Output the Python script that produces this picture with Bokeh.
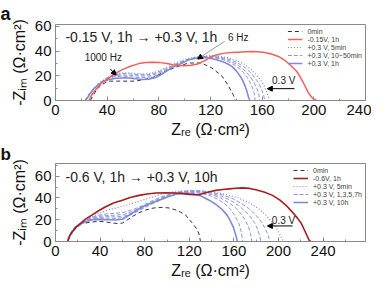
from bokeh.plotting import figure
from bokeh.layouts import column
from bokeh.models import (Range1d, FixedTicker, Legend, LegendItem, Label,
                          Arrow, NormalHead)
from bokeh.embed import file_html
from bokeh.resources import INLINE

# ---------------- Panel a data (Zre, -Zim in ohm cm2) ----------------
A_X_TICKS = [0, 40, 80, 120, 160, 200, 240]
A_Y_TICKS = [0, 20, 40, 60]

A_0MIN_X = [27, 29, 32, 36, 41, 49, 62, 75, 84, 93, 103, 113, 121, 129, 134, 138, 139]
A_0MIN_Y = [0, 4, 9, 13, 15.7, 15.7, 15.7, 18.4, 23, 27, 30.4, 30.4, 26.4, 19.7, 11.7, 3.7, 0]

A_RED_X = [26, 27, 29, 32.4, 36, 41.4, 46, 51.7, 58, 64.5, 70, 75, 81, 86.4, 91, 95.4, 100,
           105, 110, 116, 121, 126, 131, 136, 141.7, 147, 152, 157, 162, 167, 172.6, 177,
           180, 183.5, 186.7, 189.5, 191.9, 194, 195.7, 198, 200, 202]
A_RED_Y = [0, 2.5, 6, 10.4, 14.5, 18.4, 21.8, 25, 27.8, 29.9, 30.8, 31, 30.7, 29.9, 29, 28.3,
           28.2, 28.6, 29.6, 32.5, 35.7, 37.3, 38.4, 38.9, 39.2, 39.5, 39.7, 39.6, 38.9, 37.7,
           35.7, 33, 30.4, 27, 23.7, 19, 14.4, 10, 6.4, 3, 1, 0.5]

A_5MIN_X = [23, 25, 28, 31, 35, 40, 45, 50, 56, 62, 68, 74, 80, 86, 92, 98, 104, 110, 116,
            122, 128, 134, 140, 146, 151, 155, 158.5, 161.5, 163.5, 164.8, 165.3]
A_5MIN_Y = [0, 3, 7, 11, 15, 18.5, 21, 22.2, 22.5, 22, 21.5, 22, 24, 27, 30, 32.5, 34.3, 35.5,
            36.2, 36.3, 35.8, 34.5, 32.5, 29.5, 25.5, 21.5, 17, 12, 7, 3, 0]

A_10MIN_X = [23, 26, 30, 35, 40, 46, 52, 58, 65, 72, 79, 86, 93, 100, 107, 114, 121, 128, 135,
             141, 147, 152, 156, 159, 161, 162]
A_10MIN_Y = [0, 5, 10, 15, 18.5, 21, 21.8, 21.5, 20.8, 21, 22.8, 26, 29.5, 32.5, 34.5, 35.6,
             35.8, 35, 33.2, 30.5, 26.5, 21.5, 16, 10.5, 5, 0]

A_30MIN_X = [23, 26, 30, 35, 40, 46, 52, 58, 65, 72, 79, 86, 93, 100, 107, 114, 121, 128, 134,
             140, 145, 150, 153.5, 156, 157.5, 158]
A_30MIN_Y = [0, 5, 10, 14.5, 18, 20.2, 20.8, 20.4, 19.8, 20, 21.8, 25.2, 29, 32.2, 34.3, 35.4,
             35.5, 34.4, 32.5, 29.5, 25.8, 20.5, 15, 9.5, 4.5, 0]

A_50MIN_X = [23, 26, 30, 35, 40, 46, 52, 58, 65, 72, 79, 86, 93, 100, 107, 114, 121, 128, 134,
             139, 144, 148, 151, 153, 154.2, 154.5]
A_50MIN_Y = [0, 5, 10, 14, 17.5, 19.3, 19.8, 19.2, 18.6, 18.8, 20.5, 24.4, 28.5, 31.8, 34, 35.1,
             35, 33.6, 31.4, 28.5, 24.5, 19.5, 14, 9, 4, 0]

A_1H_X = [23, 25, 27, 30, 33.7, 37, 41.4, 47, 54, 60, 67, 72, 77, 82, 87.7, 91.5, 95.4, 100,
          103, 109.6, 114, 118.6, 124, 128.9, 133, 136.6, 140, 143, 145, 146.8, 148.3, 149.5, 150.5]
A_1H_Y = [0, 2.5, 6, 10, 13, 15.3, 17, 18, 18.4, 17.8, 17, 17.2, 18.4, 21, 25, 27.3, 29, 31.3,
          33, 34.4, 34.8, 34.4, 33.3, 31.7, 29.8, 27.7, 24, 19.7, 16, 11.7, 7, 2.4, 0]

A_LABELS = ["0min", "-0.15V, 1h", "+0.3 V, 5min", "+0.3 V, 10~50min", "+0.3 V, 1h"]

# ---------------- Panel b data ----------------
B_X_TICKS = [0, 40, 80, 120, 160, 200, 240]
B_Y_TICKS = [0, 20, 40, 60]

B_0MIN_X = [11, 12.5, 15, 18, 22, 27, 33, 39, 45, 51, 56, 60, 64, 69, 75, 81, 88, 96, 102, 108,
            112, 116.6, 120, 123.5, 127, 129, 130]
B_0MIN_Y = [0, 5, 10, 14, 16, 17, 18, 18.5, 18, 17, 16.5, 17, 19.5, 23, 26.5, 29, 30.8, 31.4,
            30.8, 29, 27, 24.5, 20, 16, 11, 6, 0]

B_RED_X = [10.8, 12, 14, 16.8, 19.5, 22.7, 27.5, 33, 39, 45, 52, 60, 67, 75, 82, 90, 99, 108,
           114, 120, 125, 128.9, 133, 138, 143.8, 150, 155.8, 162, 167.7, 174, 179.6, 187,
           194.6, 201, 206.5, 212, 217, 220.5, 223, 225.5, 227.5, 229]
B_RED_Y = [0, 3.5, 7.5, 11, 14.2, 17, 21, 24.5, 28.5, 32, 35.3, 38, 40.5, 42.4, 43.7, 44.6,
           44.8, 44.6, 44, 43.3, 43, 43, 44.3, 45.8, 47, 47.8, 48.4, 49, 49.3, 48.8, 47.5, 45.5,
           42.4, 38.3, 33.5, 27.5, 21.5, 16.5, 11, 5.5, 1, 0]

B_5MIN_X = [11, 13, 16, 20, 25, 31, 38, 46, 55, 64, 74, 84, 94, 104, 114, 124, 134, 144, 154,
            164, 173, 181, 188, 194, 198.5, 201.5, 203.3, 204]
B_5MIN_Y = [0, 5, 10, 14.5, 18.5, 22, 25.5, 28.5, 31, 33.5, 36.5, 40, 43, 45.5, 46.5, 46.8,
            46.2, 45, 43, 40, 36, 31, 25, 18, 11.5, 6, 2, 0]

B_1H_X = [11, 13, 16, 20, 25, 31, 38, 46, 54, 62, 70, 78, 86, 95, 104, 113, 122, 131, 140, 149,
          158, 166, 173, 179, 184, 187.5, 190, 191.5, 192]
B_1H_Y = [0, 5, 10, 14.5, 18.5, 21.5, 24, 25.5, 26, 27, 29.5, 33, 37, 41, 44, 46, 46.8, 46.5,
          45.2, 43, 39.8, 35.5, 30.5, 25, 19, 13, 7.5, 3, 0]

B_3H_X = [11, 13, 16, 20, 25, 31, 38, 46, 54, 62, 70, 78, 86, 95, 104, 113, 122, 131, 140, 149,
          157, 164, 170, 175, 179, 181.5, 183.2, 184]
B_3H_Y = [0, 5, 10, 14, 17.8, 20.8, 23, 24, 24.2, 25.2, 28, 31.8, 36, 40.2, 43.4, 45.5, 46.2,
          45.8, 44.2, 41.5, 37.8, 33.2, 28, 22.5, 16.5, 10.5, 5, 0]

B_5H_X = [11, 13, 16, 20, 25, 31, 38, 46, 54, 62, 70, 78, 86, 95, 104, 113, 122, 131, 140, 148,
          155, 161, 166, 170, 173, 175, 176]
B_5H_Y = [0, 5, 9.8, 13.8, 17.2, 20, 22, 22.8, 22.6, 23.6, 26.8, 30.8, 35, 39.4, 42.8, 45, 45.7,
          45.1, 43.2, 40, 36, 31.5, 26, 20, 13.5, 7, 0]

B_7H_X = [11, 13, 16, 20, 25, 31, 38, 46, 54, 62, 70, 78, 86, 95, 104, 113, 122, 131, 139, 146,
          152, 157, 161, 164.5, 166.5, 168]
B_7H_Y = [0, 5, 9.6, 13.5, 16.8, 19.3, 21.2, 21.6, 21.2, 22.2, 25.8, 30, 34.2, 38.6, 42.2, 44.5,
          45, 44.2, 42, 38.6, 34.5, 29.5, 23.5, 16.5, 9, 0]

B_10H_X = [11, 12.5, 15, 18, 21, 26, 33, 40, 48, 54, 60, 64, 69, 73, 78, 85, 93, 100, 108, 115,
           123, 130, 137.8, 144, 149.8, 154, 157, 159.5, 161.3, 162.5, 163]
B_10H_Y = [0, 5, 9.5, 13, 15.5, 18, 20, 20.3, 20, 19.8, 20.5, 23, 26, 29, 32, 35, 38, 41, 43.5,
           44.3, 44, 42, 38, 34, 29, 24, 18.5, 13, 7, 3, 0]

B_LABELS = ["0min", "-0.6V, 1h", "+0.3 V, 5min", "+0.3 V, 1,3,5,7h", "+0.3 V, 10h"]

FONT = "Liberation Sans"
BLUE = "#7f8bd6"
GREY = "#333333"
RED_A = "#f2605c"
RED_B = "#a51e1e"


def make_fig(letter, letter_size, standoff, height, border_top, border_bottom,
             xmax, ymax, xticks, yticks):
    p = figure(width=371, height=height, output_backend="svg", toolbar_location=None,
               x_range=Range1d(0, xmax), y_range=Range1d(0, ymax),
               min_border_left=55, min_border_right=6,
               min_border_top=border_top, min_border_bottom=border_bottom)
    p.title.text = letter
    p.title.align = "left"
    p.title.offset = -55
    p.title.standoff = standoff
    p.title.text_font = FONT
    p.title.text_font_size = letter_size
    p.title.text_font_style = "bold"
    p.title.text_color = "#111111"
    p.xgrid.visible = False
    p.ygrid.visible = False
    p.outline_line_color = "#8a8a8a"
    xminor = [v for v in range(0, int(xmax) + 1, 20) if v not in xticks]
    yminor = [v for v in range(0, int(ymax) + 1, 10) if v not in yticks]
    p.xaxis.ticker = FixedTicker(ticks=xticks, minor_ticks=xminor)
    p.yaxis.ticker = FixedTicker(ticks=yticks, minor_ticks=yminor)
    for ax in (p.xaxis[0], p.yaxis[0]):
        ax.axis_line_color = "#8a8a8a"
        ax.major_tick_line_color = "#8a8a8a"
        ax.minor_tick_line_color = "#8a8a8a"
        ax.major_tick_in = 4
        ax.major_tick_out = 0
        ax.minor_tick_in = 2
        ax.minor_tick_out = 0
        ax.major_label_text_font = FONT
        ax.major_label_text_font_size = "15px"
        ax.major_label_text_color = "#111111"
        ax.major_label_standoff = 4
        ax.axis_label_text_font = FONT
        ax.axis_label_text_font_size = "16px"
        ax.axis_label_text_font_style = "normal"
        ax.axis_label_text_color = "#111111"
    p.xaxis.axis_label = "Zᵣₑ (Ω·cm²)"
    p.yaxis.axis_label = "-Zᵢₘ (Ω·cm²)"
    p.xaxis.axis_label_standoff = 3
    p.yaxis.axis_label_standoff = 4
    return p


def add_legend(p, items):
    leg = Legend(items=items, location="top_right", margin=1, padding=2, spacing=0,
                 label_text_font=FONT, label_text_font_size="7px", label_text_color="#444444",
                 label_height=8, glyph_height=8, glyph_width=15, label_standoff=5,
                 background_fill_alpha=0, border_line_alpha=0)
    p.add_layout(leg, "center")


def add_arrow(p, xs, ys, xe, ye, color="black"):
    p.add_layout(Arrow(end=NormalHead(size=5, fill_color="black", line_color="black"),
                       x_start=xs, y_start=ys, x_end=xe, y_end=ye,
                       line_color=color, line_width=1))


def add_text(p, x, y, text, size, align="left"):
    p.add_layout(Label(x=x, y=y, text=text, text_font=FONT, text_font_size=size,
                       text_color="#222222", text_baseline="middle", text_align=align))


# ---------------- Panel a ----------------
pa = make_fig("a", "18px", 2, 142, 24, 42, 240, 61.6, A_X_TICKS, A_Y_TICKS)
r_dot = pa.line(A_5MIN_X, A_5MIN_Y, line_color=BLUE, line_width=1.2, line_dash="1 2")
r_dash = [pa.line(x, y, line_color=BLUE, line_width=1, line_dash="4 2", line_alpha=0.9)
          for x, y in ((A_10MIN_X, A_10MIN_Y), (A_30MIN_X, A_30MIN_Y), (A_50MIN_X, A_50MIN_Y))]
r_0 = pa.line(A_0MIN_X, A_0MIN_Y, line_color=GREY, line_width=1, line_dash="4 3")
r_1h = pa.line(A_1H_X, A_1H_Y, line_color=BLUE, line_width=1.6)
r_red = pa.line(A_RED_X, A_RED_Y, line_color=RED_A, line_width=1.5)
add_legend(pa, [LegendItem(label=A_LABELS[0], renderers=[r_0]),
                LegendItem(label=A_LABELS[1], renderers=[r_red]),
                LegendItem(label=A_LABELS[2], renderers=[r_dot]),
                LegendItem(label=A_LABELS[3], renderers=[r_dash[0]]),
                LegendItem(label=A_LABELS[4], renderers=[r_1h])])
add_text(pa, 7.7, 51.2, "-0.15 V, 1h → +0.3 V, 1h", "14px")
add_text(pa, 37, 35.2, "1000 Hz", "10px", "center")
add_arrow(pa, 42.4, 25.6, 47, 20.5)
add_text(pa, 141.5, 51, "6 Hz", "10px", "center")
add_arrow(pa, 131, 48, 110, 33.6, color="#9a9a9a")
add_text(pa, 176.7, 16, "0.3 V", "10px", "center")
add_arrow(pa, 185, 9.6, 164, 9.6)

# ---------------- Panel b ----------------
pb = make_fig("b", "17px", 0, 143, 19, 44, 278, 71.7, B_X_TICKS, B_Y_TICKS)
rb_dot = pb.line(B_5MIN_X, B_5MIN_Y, line_color=BLUE, line_width=1.2, line_dash="1 2")
rb_dash = [pb.line(x, y, line_color=BLUE, line_width=1, line_dash="4 2", line_alpha=0.9)
           for x, y in ((B_1H_X, B_1H_Y), (B_3H_X, B_3H_Y), (B_5H_X, B_5H_Y), (B_7H_X, B_7H_Y))]
rb_0 = pb.line(B_0MIN_X, B_0MIN_Y, line_color=GREY, line_width=1, line_dash="4 3")
rb_10h = pb.line(B_10H_X, B_10H_Y, line_color=BLUE, line_width=1.6)
rb_red = pb.line(B_RED_X, B_RED_Y, line_color=RED_B, line_width=1.6)
add_legend(pb, [LegendItem(label=B_LABELS[0], renderers=[rb_0]),
                LegendItem(label=B_LABELS[1], renderers=[rb_red]),
                LegendItem(label=B_LABELS[2], renderers=[rb_dot]),
                LegendItem(label=B_LABELS[3], renderers=[rb_dash[0]]),
                LegendItem(label=B_LABELS[4], renderers=[rb_10h])])
add_text(pb, 9, 59, "-0.6 V, 1h → +0.3 V, 10h", "14px")
add_text(pb, 204.5, 19.7, "0.3 V", "10px", "center")
add_arrow(pb, 212.6, 14.3, 190, 14.3)

layout = column(pa, pb, spacing=0)
open("out.html", "w").write(file_html(layout, INLINE))
